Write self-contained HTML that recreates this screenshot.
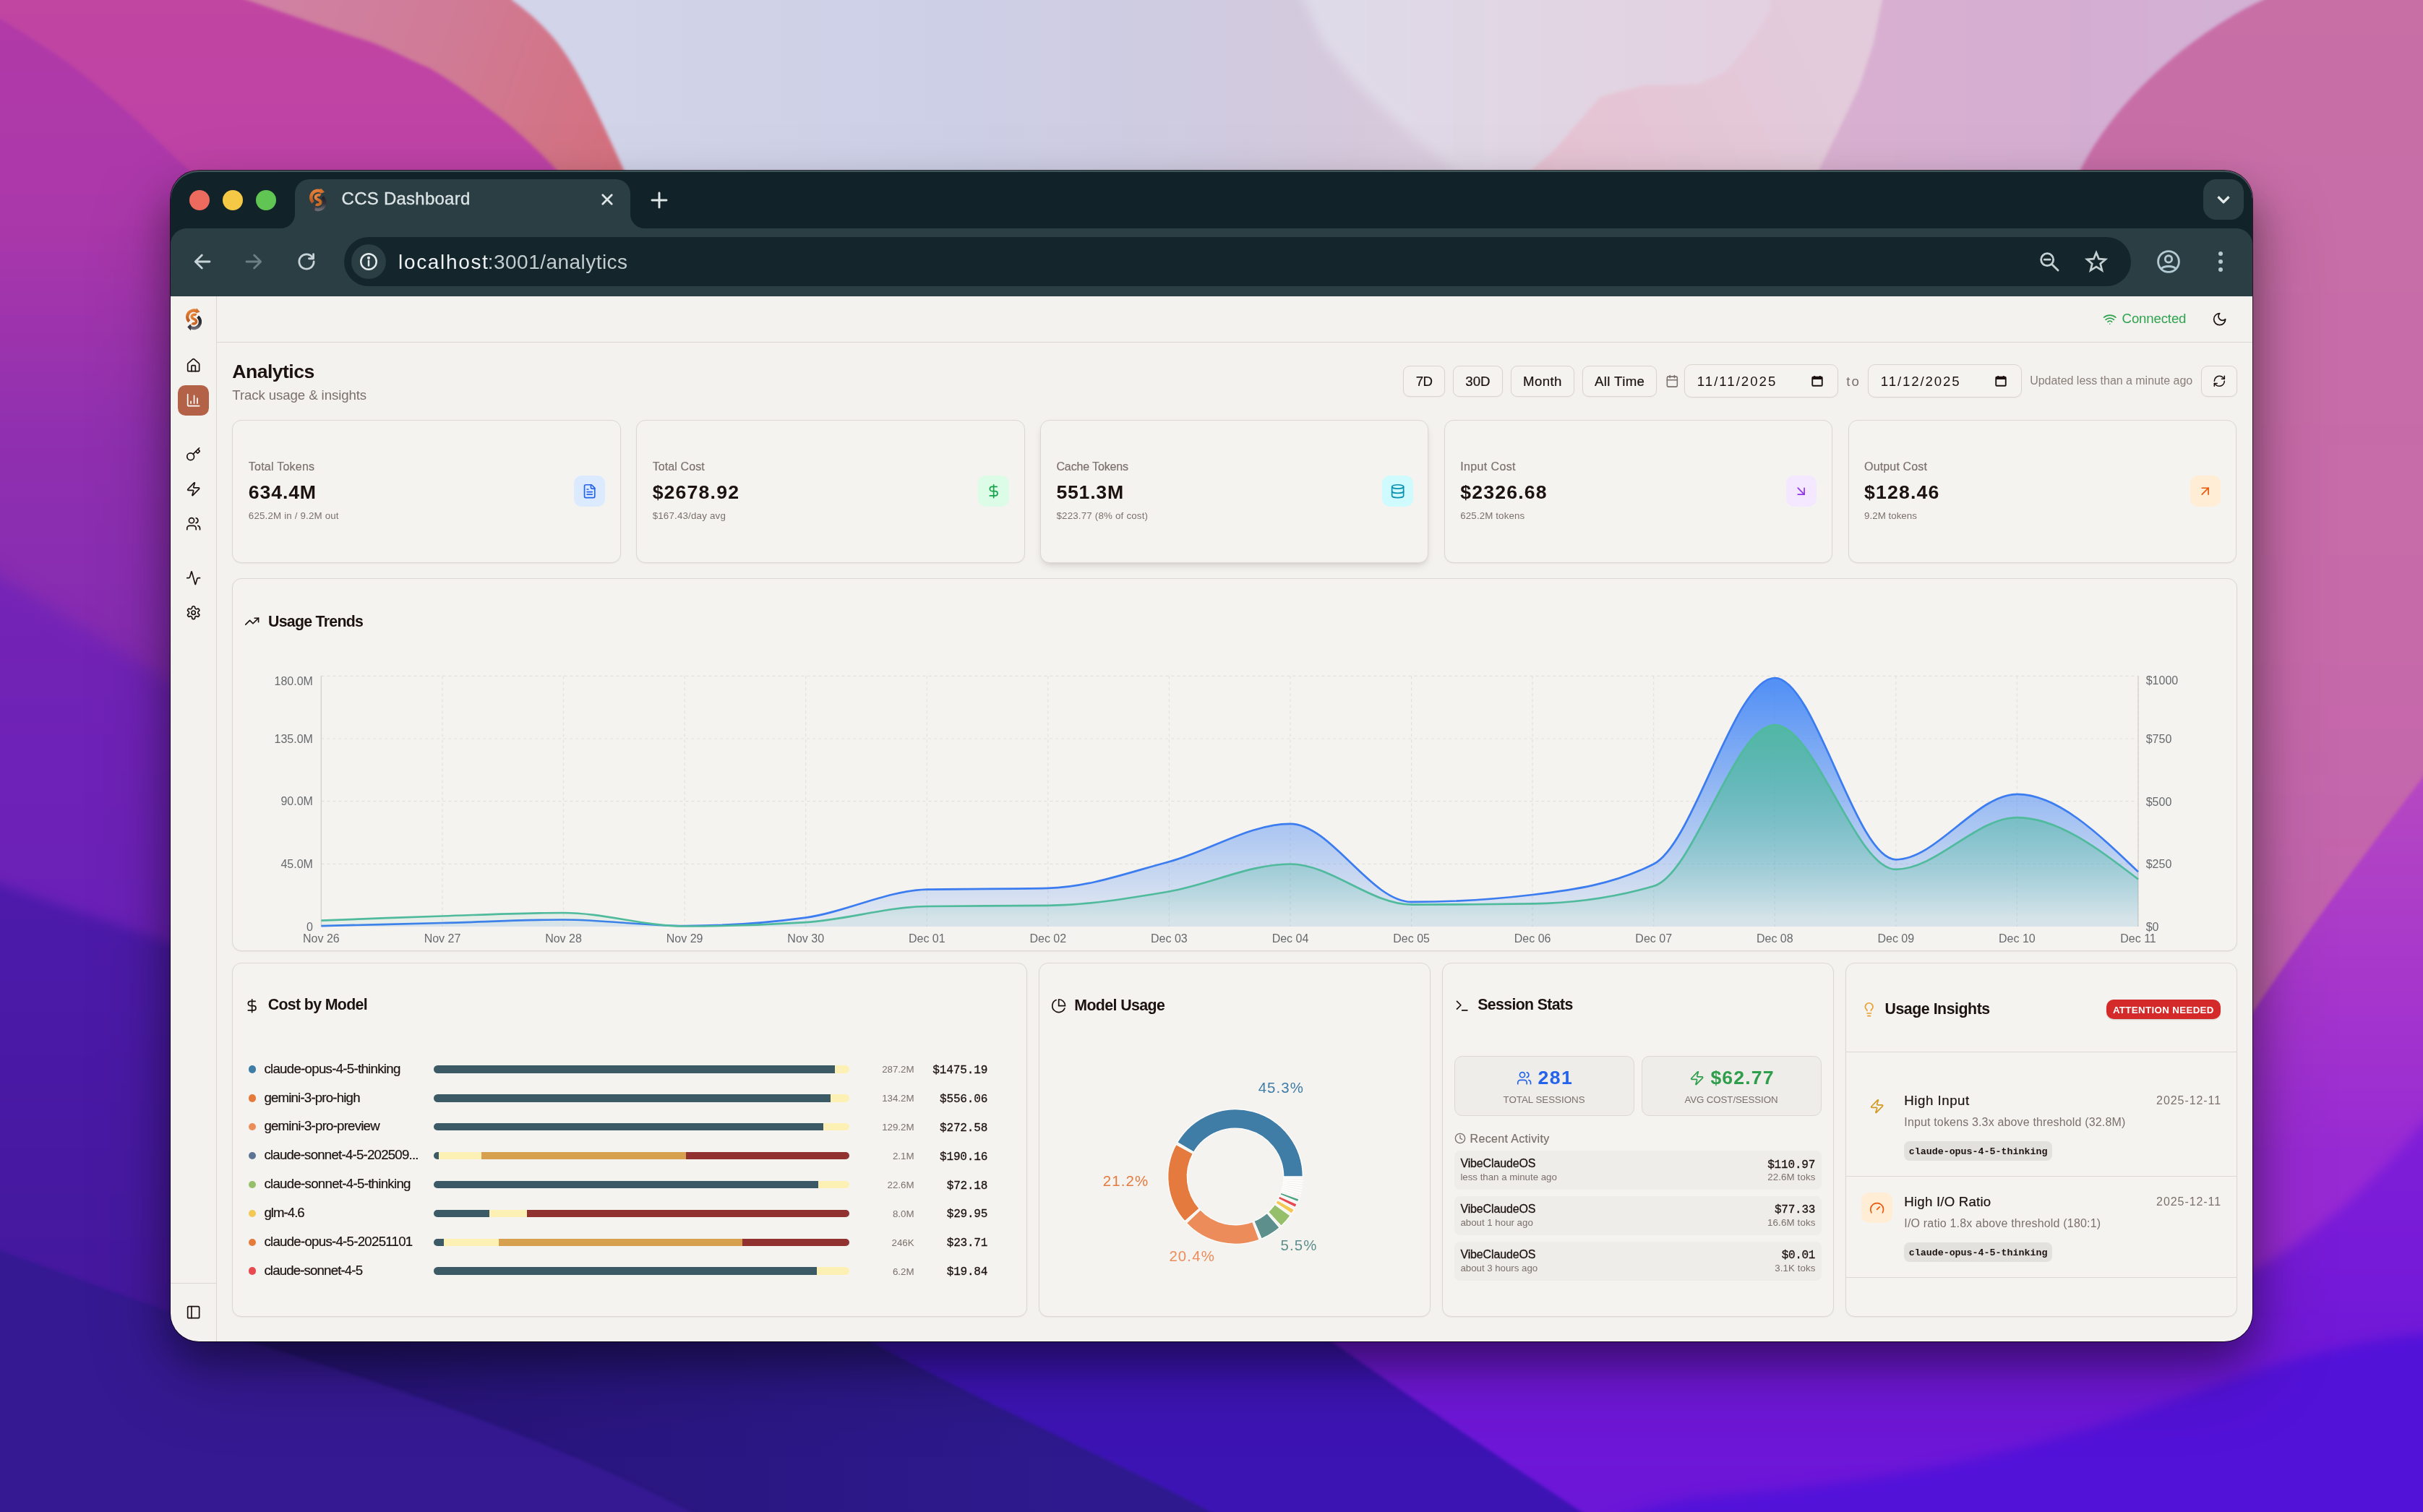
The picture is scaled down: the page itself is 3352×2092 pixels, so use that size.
<!DOCTYPE html>
<html lang="en"><head><meta charset="utf-8"><title>CCS Dashboard</title>
<style>
html,body{margin:0;padding:0;background:#3a1890;}
body{width:3352px;height:2092px;overflow:hidden;position:relative;font-family:"Liberation Sans",Arial,sans-serif;}
.wp{position:absolute;left:0;top:0;}
.b{position:absolute;box-sizing:border-box;}
.t{position:absolute;white-space:nowrap;display:block;}
.i{position:absolute;overflow:visible;}
#shadow{position:absolute;left:236px;top:236px;width:2880px;height:1620px;border-radius:39px;
 box-shadow:0 25px 60px rgba(0,0,0,.41),0 40px 120px rgba(0,0,0,.22);}
#ring{position:absolute;left:236px;top:236px;width:2880px;height:1620px;border-radius:39px;box-shadow:0 0 0 1px rgba(0,0,0,.72);}
#shwrap{position:absolute;left:0;top:0;width:3352px;height:2092px;-webkit-mask-image:linear-gradient(to bottom,rgba(0,0,0,.35) 205px,#000 300px);mask-image:linear-gradient(to bottom,rgba(0,0,0,.35) 205px,#000 300px);}
#win{position:absolute;left:0;top:0;width:3352px;height:2092px;clip-path:inset(236px 236px 236px 236px round 39px);will-change:transform;}
#hl{position:absolute;left:236px;top:236px;width:2880px;height:1620px;border-radius:39px;box-shadow:inset 0 2px 0 0 rgba(170,205,205,.30);}
.card{position:absolute;box-sizing:border-box;border:1px solid #dcd8d1;border-radius:13px;background:#f5f3ef;box-shadow:0 1px 2px rgba(0,0,0,.05);}
.btn{position:absolute;box-sizing:border-box;border:1px solid #d9d4cd;border-radius:9px;background:#f5f3ef;box-shadow:0 1px 2px rgba(0,0,0,.04);}
</style></head><body>

<svg class="wp" width="3352" height="2092" viewBox="0 0 3352 2092" preserveAspectRatio="none">
<defs>
<linearGradient id="gTop" x1="0" y1="0" x2="3352" y2="0" gradientUnits="userSpaceOnUse">
<stop offset="0.24" stop-color="#d2d4ea"/><stop offset="0.40" stop-color="#cdcfe6"/><stop offset="0.50" stop-color="#d0cbe0"/>
<stop offset="0.56" stop-color="#d6c9dc"/><stop offset="0.62" stop-color="#dcd0e0"/><stop offset="0.70" stop-color="#e1cedd"/><stop offset="0.76" stop-color="#dfc6da"/><stop offset="1" stop-color="#d8b4d2"/>
</linearGradient>
<linearGradient id="gLight" x1="1800" y1="0" x2="2500" y2="0" gradientUnits="userSpaceOnUse">
<stop offset="0" stop-color="#dedbe9"/><stop offset="0.6" stop-color="#e2d4e2"/><stop offset="1" stop-color="#e3cfe0"/>
</linearGradient>
<linearGradient id="gHill" x1="2120" y1="240" x2="2500" y2="60" gradientUnits="userSpaceOnUse">
<stop offset="0" stop-color="#e6c2d2"/><stop offset="1" stop-color="#e3cbdb"/>
</linearGradient>
<linearGradient id="gLilac" x1="2520" y1="0" x2="3150" y2="0" gradientUnits="userSpaceOnUse">
<stop offset="0" stop-color="#d9b0d0"/><stop offset="0.5" stop-color="#d5aed2"/><stop offset="1" stop-color="#d2b2d6"/>
</linearGradient>
<linearGradient id="gHot" x1="0" y1="0" x2="0" y2="1500" gradientUnits="userSpaceOnUse">
<stop offset="0" stop-color="#c86fa6"/><stop offset="0.6" stop-color="#c76aaa"/><stop offset="1" stop-color="#c060b0"/>
</linearGradient>
<linearGradient id="gSalmon" x1="300" y1="0" x2="860" y2="200" gradientUnits="userSpaceOnUse">
<stop offset="0" stop-color="#d082a6"/><stop offset="0.5" stop-color="#d07c98"/><stop offset="1" stop-color="#d4707e"/>
</linearGradient>
<linearGradient id="gMag" x1="0" y1="0" x2="0" y2="1000" gradientUnits="userSpaceOnUse">
<stop offset="0" stop-color="#c146a2"/><stop offset="0.25" stop-color="#bd42a6"/><stop offset="0.6" stop-color="#9a32b0"/><stop offset="1" stop-color="#852ab2"/>
</linearGradient>
<linearGradient id="gMagD" x1="0" y1="0" x2="0" y2="1000" gradientUnits="userSpaceOnUse">
<stop offset="0" stop-color="#b23aa8"/><stop offset="0.3" stop-color="#ab38aa"/><stop offset="0.6" stop-color="#9030b0"/><stop offset="1" stop-color="#822ab2"/>
</linearGradient>
<linearGradient id="gVio" x1="0" y1="800" x2="0" y2="1300" gradientUnits="userSpaceOnUse">
<stop offset="0" stop-color="#7424b6"/><stop offset="1" stop-color="#6a20b8"/>
</linearGradient>
<linearGradient id="gInd" x1="0" y1="1230" x2="0" y2="1800" gradientUnits="userSpaceOnUse">
<stop offset="0" stop-color="#4d1aaa"/><stop offset="1" stop-color="#44189e"/>
</linearGradient>
<linearGradient id="gRV" x1="0" y1="1080" x2="0" y2="1600" gradientUnits="userSpaceOnUse">
<stop offset="0" stop-color="#b648c2"/><stop offset="0.55" stop-color="#a636cc"/><stop offset="1" stop-color="#982ad4"/>
</linearGradient>
<linearGradient id="gD2" x1="0" y1="1560" x2="0" y2="2092" gradientUnits="userSpaceOnUse">
<stop offset="0" stop-color="#801ed8"/><stop offset="0.5" stop-color="#7219d8"/><stop offset="1" stop-color="#6c16d8"/>
</linearGradient>
<linearGradient id="gWB" x1="500" y1="1900" x2="1500" y2="1900" gradientUnits="userSpaceOnUse"><stop offset="0" stop-color="#271478"/><stop offset="1" stop-color="#2e1a8e"/></linearGradient>
<filter id="b2" color-interpolation-filters="sRGB"><feGaussianBlur stdDeviation="2"/></filter>
<filter id="b8" color-interpolation-filters="sRGB"><feGaussianBlur stdDeviation="8"/></filter>
<filter id="b12" color-interpolation-filters="sRGB"><feGaussianBlur stdDeviation="12"/></filter><filter id="b30" color-interpolation-filters="sRGB"><feGaussianBlur stdDeviation="30"/></filter>
</defs>
<rect x="0" y="0" width="3352" height="2092" fill="url(#gTop)"/>
<polygon filter="url(#b8)" points="1795,-20 1830,60 1880,120 1950,185 2030,250 2140,330 2600,330 2600,-20" fill="url(#gLight)"/>
<polygon filter="url(#b2)" points="2090,260 2150,208 2214,134 2274,118 2348,117 2388,99 2428,50 2448,15 2457,-60 2620,-60 2620,330 2090,330" fill="url(#gHill)"/>
<polygon filter="url(#b2)" points="2605,-60 2604,0 2592,59 2573,118 2545,177 2518,232 2470,330 3420,330 3420,-60" fill="url(#gLilac)"/>
<path filter="url(#b2)" d="M3190,-40 L3130,0 C3075,25 2945,105 2879,233 C2850,300 2840,400 2840,500 L2840,1500 L3420,1500 L3420,-60 Z" fill="url(#gHot)"/>
<path filter="url(#b2)" d="M3420,985 L3352,1075 C3280,1170 3190,1290 3117,1400 C3000,1560 2800,1700 2500,1800 L1800,1800 L1800,2170 L3420,2170 Z" fill="url(#gRV)"/>
<path filter="url(#b8)" d="M3420,1490 L3352,1553 C3290,1630 3210,1705 3130,1750 C3050,1790 2900,1830 2700,1850 L1780,1850 L1780,2170 L3420,2170 Z" fill="url(#gD2)"/>
<path filter="url(#b2)" d="M-60,-60 L708,-60 L708,0 C750,30 775,60 795,95 C815,130 838,180 862,233 C880,275 900,330 930,420 L930,1300 L-60,1300 Z" fill="url(#gSalmon)"/>
<path filter="url(#b2)" d="M-60,-60 L300,-60 C330,-4 336,-2 342,0 C400,20 450,38 510,57 C545,70 565,82 594,94 C630,115 660,138 693,163 C720,185 745,208 768,233 C820,290 860,350 900,420 L900,1300 L-60,1300 Z" fill="url(#gMag)"/>
<path filter="url(#b2)" d="M-60,-10 L0,26 C30,44 60,63 86.7,81.5 C116,103 145,127 173.3,152.5 C197,174 220,196 242.7,218.4 C250,225 255,229 260,234 C310,283 370,350 420,420 L420,1300 L-60,1300 Z" fill="url(#gMagD)"/>
<path filter="url(#b12)" d="M-60,760 L237,944 L700,1190 L700,2170 L-60,2170 Z" fill="url(#gVio)"/>
<path filter="url(#b8)" d="M-60,1203 L237,1305 L900,1500 L900,2170 L-60,2170 Z" fill="url(#gInd)"/>
<rect x="236" y="1800" width="2100" height="400" fill="url(#gWB)"/>
<path filter="url(#b2)" d="M-60,1708 L360,1861 C600,1935 800,2010 955,2092 L1100,2170 L-60,2170 Z" fill="#351992"/>
<path filter="url(#b2)" d="M1000,1830 L1203,1856 C1400,1960 1560,2030 1690,2100 L1820,2170 L2300,2170 L2300,1830 Z" fill="#3d14b4"/>
<path filter="url(#b2)" d="M1780,1820 L1842,1856 C1960,1940 2080,2020 2188,2092 L2300,2170 L3420,2170 L3420,1820 Z" fill="url(#gD2)"/>
<path filter="url(#b8)" d="M3420,1842 L3352,1846 C3200,1860 3060,1920 2921,1967 C2740,2025 2560,2055 2368,2070 C2330,2073 2290,2082 2240,2100 L2100,2170 L3420,2170 Z" fill="#5312d8"/>
</svg>
<div id="shwrap"><div id="shadow"></div></div><div id="ring"></div>
<div id="win">
<div class="chrome" aria-label="Browser chrome">
<div class="b" style="left:236.00px;top:235.00px;width:2880.00px;height:81.00px;background:#112228;"></div>
<div class="b" style="left:236.00px;top:316.00px;width:2880.00px;height:94.00px;background:#2b3e44;"></div>
<div class="b" style="left:236.00px;top:316.00px;width:24.00px;height:24.00px;background:#112228;"></div>
<div class="b" style="left:236.00px;top:316.00px;width:48.00px;height:48.00px;background:#2b3e44;border-top-left-radius:22px;"></div>
<div class="b" style="left:3092.00px;top:316.00px;width:24.00px;height:24.00px;background:#112228;"></div>
<div class="b" style="left:3068.00px;top:316.00px;width:48.00px;height:48.00px;background:#2b3e44;border-top-right-radius:22px;"></div>
<div class="b" style="left:262.30px;top:262.80px;width:28.00px;height:28.00px;background:#ed6a5e;border-radius:50%;"></div>
<div class="b" style="left:307.80px;top:262.80px;width:28.00px;height:28.00px;background:#f5c846;border-radius:50%;"></div>
<div class="b" style="left:353.80px;top:262.80px;width:28.00px;height:28.00px;background:#61c554;border-radius:50%;"></div>
<div class="b" style="left:408.00px;top:248.00px;width:464.00px;height:70.00px;background:#2b3e44;border-radius:20px 20px 0 0;"></div>
<svg class="i" style="left:388px;top:296px" width="20" height="20" viewBox="0 0 20 20"><path d="M20 0 V20 H0 A20 20 0 0 0 20 0Z" fill="#2b3e44"/></svg>
<svg class="i" style="left:872px;top:296px" width="20" height="20" viewBox="0 0 20 20"><path d="M0 0 V20 H20 A20 20 0 0 1 0 0Z" fill="#2b3e44"/></svg>
<svg class="i" style="left:427.90px;top:260.30px" width="23.60" height="33.59" viewBox="0 0 22.2 31.6"><defs><linearGradient id="lgO" x1="0" y1="0" x2="0.3" y2="1"><stop offset="0" stop-color="#e8853c"/><stop offset="0.5" stop-color="#d06c28"/><stop offset="1" stop-color="#b4521c"/></linearGradient><linearGradient id="lgD" x1="0" y1="0" x2="0" y2="1"><stop offset="0" stop-color="#232228"/><stop offset="0.55" stop-color="#34323a"/><stop offset="1" stop-color="#6e6a74"/></linearGradient><linearGradient id="lgS" x1="0" y1="0" x2="1" y2="1"><stop offset="0" stop-color="#e88a42"/><stop offset="0.5" stop-color="#d8702a"/><stop offset="1" stop-color="#c8621f"/></linearGradient></defs><path d="M16.64,12.11 A9,9 0 0 1 5.94,26.57" fill="none" stroke="url(#lgD)" stroke-width="4.3"/><path d="M2.3,26.6 L7.7,21.0 L6.9,31.5 Z" fill="#3a3840"/><path d="M15.33,4.55 A9,9 0 0 0 4.74,18.86" fill="none" stroke="url(#lgO)" stroke-width="4.3"/><path d="M14.9,0.2 L19.7,5.5 L13.6,7.8 Z" fill="#d4702c"/><path d="M14.3,10.1 C12.6,8.5 8.1,9.1 8.2,12.4 C8.3,15.8 14.4,14.9 14.5,18.6 C14.6,21.9 10.4,22.7 8.5,21.1" fill="none" stroke="#2b3e44" stroke-width="5.4" stroke-linecap="round"/><path d="M14.3,10.1 C12.6,8.5 8.1,9.1 8.2,12.4 C8.3,15.8 14.4,14.9 14.5,18.6 C14.6,21.9 10.4,22.7 8.5,21.1" fill="none" stroke="url(#lgS)" stroke-width="3.6" stroke-linecap="butt"/></svg>
<span class="t" style="left:472.60px;top:263.48px;font:400 24.00px/1 'Liberation Sans',Arial,sans-serif;color:#dde5e7;letter-spacing:0.240px;-webkit-text-stroke:0.3px #dde5e7;">CCS Dashboard</span>
<svg class="i" style="left:825.00px;top:261.00px;" width="30.00" height="30.00" viewBox="0 0 24 24" fill="none" stroke="#dfe6e8" stroke-width="2.2" stroke-linecap="round" stroke-linejoin="round"><path d="M7 7 L17 17 M17 7 L7 17"/></svg>
<svg class="i" style="left:895.60px;top:260.80px;" width="32.00" height="32.00" viewBox="0 0 24 24" fill="none" stroke="#dfe6e8" stroke-width="2.2" stroke-linecap="round" stroke-linejoin="round"><path d="M12 4.5 V19.5 M4.5 12 H19.5"/></svg>
<div class="b" style="left:3048.00px;top:248.00px;width:56.00px;height:56.00px;background:#2b3e44;border-radius:18px;"></div>
<svg class="i" style="left:3061.00px;top:261.00px;stroke-linecap:butt;" width="30.00" height="30.00" viewBox="0 0 24 24" fill="none" stroke="#e6ecec" stroke-width="2.6" stroke-linecap="round" stroke-linejoin="round"><path d="M6 9 L12 15 L18 9"/></svg>
<svg class="i" style="left:264.00px;top:346.00px;" width="32.00" height="32.00" viewBox="0 0 24 24" fill="none" stroke="#c7d3d7" stroke-width="2.1" stroke-linecap="round" stroke-linejoin="round"><path d="M19.5 12 H5 M11.5 5.2 L4.7 12 L11.5 18.8"/></svg>
<svg class="i" style="left:335.40px;top:346.00px;" width="32.00" height="32.00" viewBox="0 0 24 24" fill="none" stroke="#6d7f85" stroke-width="2.1" stroke-linecap="round" stroke-linejoin="round"><path d="M4.5 12 H19 M12.5 5.2 L19.3 12 L12.5 18.8"/></svg>
<svg class="i" style="left:408.00px;top:346.00px;" width="32.00" height="32.00" viewBox="0 0 24 24" fill="none" stroke="#c7d3d7" stroke-width="2.1" stroke-linecap="round" stroke-linejoin="round"><path d="M18.6 8.2 A7.6 7.6 0 1 0 19.6 12"/><path d="M19.2 4.2 V8.8 H14.6" /></svg>
<div class="b" style="left:476.00px;top:328.00px;width:2472.00px;height:68.00px;background:#14252b;border-radius:34px;"></div>
<div class="b" style="left:486.00px;top:338.00px;width:48.00px;height:48.00px;background:#2b3e44;border-radius:50%;"></div>
<svg class="i" style="left:495.00px;top:347.00px;" width="30.00" height="30.00" viewBox="0 0 24 24" fill="none" stroke="#e3eaec" stroke-width="2.0" stroke-linecap="round" stroke-linejoin="round"><circle cx="12" cy="12" r="8.6"/><path d="M12 11 V16.4"/><circle cx="12" cy="7.8" r="0.7" fill="#e3eaec"/></svg>
<span class="t" style="left:551.00px;top:349.20px;font:400 28.00px/1 'Liberation Sans',Arial,sans-serif;color:#eef2f3;letter-spacing:1.668px;">localhost</span>
<span class="t" style="left:674.80px;top:349.20px;font:400 28.00px/1 'Liberation Sans',Arial,sans-serif;color:#c3cdd0;letter-spacing:0.460px;">:3001/analytics</span>
<svg class="i" style="left:2818.40px;top:344.60px;" width="34.00" height="34.00" viewBox="0 0 24 24" fill="none" stroke="#c5d0d3" stroke-width="2.0" stroke-linecap="round" stroke-linejoin="round"><circle cx="10" cy="10" r="6"/><path d="M14.6 14.6 L20.5 20.5"/><path d="M7.3 10 H12.7"/></svg>
<svg class="i" style="left:2882.80px;top:344.60px;stroke-linejoin:miter;" width="34.00" height="34.00" viewBox="0 0 24 24" fill="none" stroke="#c5d0d3" stroke-width="1.9" stroke-linecap="round" stroke-linejoin="round"><path d="M12 3.2 L14.5 9.3 L21 9.8 L16 14.1 L17.6 20.5 L12 17 L6.4 20.5 L8 14.1 L3 9.8 L9.5 9.3 Z"/></svg>
<svg class="i" style="left:2982.00px;top:344.00px;" width="36.00" height="36.00" viewBox="0 0 24 24" fill="none" stroke="#b3cad2" stroke-width="1.9" stroke-linecap="round" stroke-linejoin="round"><circle cx="12" cy="12" r="9.6"/><circle cx="12" cy="9.6" r="3.1"/><path d="M5.4 18.6 C7.4 15.6 16.6 15.6 18.6 18.6"/></svg>
<div class="b" style="left:3068.50px;top:347.70px;width:6.60px;height:6.60px;background:#b3cad2;border-radius:50%;"></div>
<div class="b" style="left:3068.50px;top:358.70px;width:6.60px;height:6.60px;background:#b3cad2;border-radius:50%;"></div>
<div class="b" style="left:3068.50px;top:369.70px;width:6.60px;height:6.60px;background:#b3cad2;border-radius:50%;"></div>
</div>
<div class="b" style="left:236.00px;top:410.00px;width:2880.00px;height:1446.00px;background:#f4f2ee;"></div><aside aria-label="Sidebar"><nav>
<div class="b" style="left:299.00px;top:410.00px;width:1.00px;height:1446.00px;background:#dcd8d1;"></div>
<div class="b" style="left:300.00px;top:473.00px;width:2816.00px;height:1.00px;background:#dcd8d1;"></div>
<svg class="i" style="left:256.80px;top:426.10px" width="22.20" height="31.60" viewBox="0 0 22.2 31.6"><path d="M16.64,12.11 A9,9 0 0 1 5.94,26.57" fill="none" stroke="url(#lgD)" stroke-width="4.3"/><path d="M2.3,26.6 L7.7,21.0 L6.9,31.5 Z" fill="#3a3840"/><path d="M15.33,4.55 A9,9 0 0 0 4.74,18.86" fill="none" stroke="url(#lgO)" stroke-width="4.3"/><path d="M14.9,0.2 L19.7,5.5 L13.6,7.8 Z" fill="#d4702c"/><path d="M14.3,10.1 C12.6,8.5 8.1,9.1 8.2,12.4 C8.3,15.8 14.4,14.9 14.5,18.6 C14.6,21.9 10.4,22.7 8.5,21.1" fill="none" stroke="#f7f3ee" stroke-width="5.4" stroke-linecap="round"/><path d="M14.3,10.1 C12.6,8.5 8.1,9.1 8.2,12.4 C8.3,15.8 14.4,14.9 14.5,18.6 C14.6,21.9 10.4,22.7 8.5,21.1" fill="none" stroke="url(#lgS)" stroke-width="3.6" stroke-linecap="butt"/></svg>
<svg class="i" style="left:256.94px;top:494.53px;" width="21.33" height="21.33" viewBox="0 0 24 24" fill="none" stroke="#1c1210" stroke-width="1.9" stroke-linecap="round" stroke-linejoin="round"><path d="M15 21v-8a1 1 0 0 0-1-1h-4a1 1 0 0 0-1 1v8"/><path d="M3 10a2 2 0 0 1 .709-1.528l7-5.999a2 2 0 0 1 2.582 0l7 5.999A2 2 0 0 1 21 10v9a2 2 0 0 1-2 2H5a2 2 0 0 1-2-2z"/></svg>
<div class="b" style="left:246.00px;top:533.00px;width:43.00px;height:42.00px;background:#b46247;border-radius:10.5px;"></div>
<svg class="i" style="left:256.94px;top:543.24px;" width="21.33" height="21.33" viewBox="0 0 24 24" fill="none" stroke="#ffffff" stroke-width="1.9" stroke-linecap="round" stroke-linejoin="round"><path d="M3 3v16a2 2 0 0 0 2 2h16"/><path d="M18 17V9"/><path d="M13 17V5"/><path d="M8 17v-3"/></svg>
<svg class="i" style="left:256.94px;top:617.54px;" width="21.33" height="21.33" viewBox="0 0 24 24" fill="none" stroke="#1c1210" stroke-width="1.9" stroke-linecap="round" stroke-linejoin="round"><path d="m15.5 7.5 2.3 2.3a1 1 0 0 0 1.4 0l2.1-2.1a1 1 0 0 0 0-1.4L19 4"/><path d="m21 2-9.6 9.6"/><circle cx="7.5" cy="15.5" r="5.5"/></svg>
<svg class="i" style="left:256.94px;top:666.34px;" width="21.33" height="21.33" viewBox="0 0 24 24" fill="none" stroke="#1c1210" stroke-width="1.9" stroke-linecap="round" stroke-linejoin="round"><path d="M4 14a1 1 0 0 1-.78-1.63l9.9-10.2a.5.5 0 0 1 .86.46l-1.92 6.02A1 1 0 0 0 13 10h7a1 1 0 0 1 .78 1.63l-9.9 10.2a.5.5 0 0 1-.86-.46l1.92-6.02A1 1 0 0 0 11 14z"/></svg>
<svg class="i" style="left:256.94px;top:714.04px;" width="21.33" height="21.33" viewBox="0 0 24 24" fill="none" stroke="#1c1210" stroke-width="1.9" stroke-linecap="round" stroke-linejoin="round"><path d="M16 21v-2a4 4 0 0 0-4-4H6a4 4 0 0 0-4 4v2"/><circle cx="9" cy="7" r="4"/><path d="M22 21v-2a4 4 0 0 0-3-3.87"/><path d="M16 3.13a4 4 0 0 1 0 7.75"/></svg>
<svg class="i" style="left:256.94px;top:788.84px;" width="21.33" height="21.33" viewBox="0 0 24 24" fill="none" stroke="#1c1210" stroke-width="1.9" stroke-linecap="round" stroke-linejoin="round"><path d="M22 12h-2.48a2 2 0 0 0-1.93 1.46l-2.35 8.36a.25.25 0 0 1-.48 0L9.24 2.18a.25.25 0 0 0-.48 0l-2.35 8.36A2 2 0 0 1 4.49 12H2"/></svg>
<svg class="i" style="left:256.94px;top:836.74px;" width="21.33" height="21.33" viewBox="0 0 24 24" fill="none" stroke="#1c1210" stroke-width="1.9" stroke-linecap="round" stroke-linejoin="round"><path d="M12.22 2h-.44a2 2 0 0 0-2 2v.18a2 2 0 0 1-1 1.73l-.43.25a2 2 0 0 1-2 0l-.15-.08a2 2 0 0 0-2.73.73l-.22.38a2 2 0 0 0 .73 2.73l.15.1a2 2 0 0 1 1 1.72v.51a2 2 0 0 1-1 1.74l-.15.09a2 2 0 0 0-.73 2.73l.22.38a2 2 0 0 0 2.73.73l.15-.08a2 2 0 0 1 2 0l.43.25a2 2 0 0 1 1 1.73V20a2 2 0 0 0 2 2h.44a2 2 0 0 0 2-2v-.18a2 2 0 0 1 1-1.73l.43-.25a2 2 0 0 1 2 0l.15.08a2 2 0 0 0 2.73-.73l.22-.39a2 2 0 0 0-.73-2.73l-.15-.08a2 2 0 0 1-1-1.74v-.5a2 2 0 0 1 1-1.74l.15-.09a2 2 0 0 0 .73-2.73l-.22-.38a2 2 0 0 0-2.73-.73l-.15.08a2 2 0 0 1-2 0l-.43-.25a2 2 0 0 1-1-1.73V4a2 2 0 0 0-2-2z"/><circle cx="12" cy="12" r="3"/></svg>
<div class="b" style="left:236.00px;top:1775.00px;width:63.00px;height:1.00px;background:#dcd8d1;"></div>
<svg class="i" style="left:256.94px;top:1804.54px;" width="21.33" height="21.33" viewBox="0 0 24 24" fill="none" stroke="#1c1210" stroke-width="1.9" stroke-linecap="round" stroke-linejoin="round"><rect width="18" height="18" x="3" y="3" rx="2"/><path d="M9 3v18"/></svg>
</nav></aside>
<header>
<svg class="i" style="left:2908.65px;top:431.75px;" width="19.50" height="19.50" viewBox="0 0 24 24" fill="none" stroke="#2fa350" stroke-width="2" stroke-linecap="round" stroke-linejoin="round"><path d="M12 20h.01"/><path d="M2 8.82a15 15 0 0 1 20 0"/><path d="M5 12.859a10 10 0 0 1 14 0"/><path d="M8.5 16.429a5 5 0 0 1 7 0"/></svg>
<span class="t" style="left:2935.60px;top:432.20px;font:400 18.67px/1 'Liberation Sans',Arial,sans-serif;color:#2fa350;letter-spacing:-0.171px;">Connected</span>
<svg class="i" style="left:3059.84px;top:431.13px;" width="21.33" height="21.33" viewBox="0 0 24 24" fill="none" stroke="#1c1210" stroke-width="1.9" stroke-linecap="round" stroke-linejoin="round"><path d="M12 3a6 6 0 0 0 9 9 9 9 0 1 1-9-9Z"/></svg>
</header>
<main>
<section aria-label="Page heading">
<span class="t" style="left:321.30px;top:501.32px;font:700 26.67px/1 'Liberation Sans',Arial,sans-serif;color:#1c1210;letter-spacing:-0.569px;">Analytics</span>
<span class="t" style="left:321.30px;top:537.70px;font:400 18.67px/1 'Liberation Sans',Arial,sans-serif;color:#7c706c;letter-spacing:-0.104px;">Track usage &amp; insights</span>
<div class="btn" style="left:1941.00px;top:506.30px;width:57.70px;height:42.60px;"></div>
<span class="t" style="left:1958.70px;top:519.00px;font:400 18.67px/1 'Liberation Sans',Arial,sans-serif;color:#1c1210;letter-spacing:-0.598px;-webkit-text-stroke:0.2px #1c1210;">7D</span>
<div class="btn" style="left:2010.30px;top:506.30px;width:68.50px;height:42.60px;"></div>
<span class="t" style="left:2027.20px;top:519.00px;font:400 18.67px/1 'Liberation Sans',Arial,sans-serif;color:#1c1210;letter-spacing:0.070px;-webkit-text-stroke:0.2px #1c1210;">30D</span>
<div class="btn" style="left:2089.90px;top:506.30px;width:87.80px;height:42.60px;"></div>
<span class="t" style="left:2107.10px;top:519.00px;font:400 18.67px/1 'Liberation Sans',Arial,sans-serif;color:#1c1210;letter-spacing:0.374px;-webkit-text-stroke:0.2px #1c1210;">Month</span>
<div class="btn" style="left:2189.10px;top:506.30px;width:102.60px;height:42.60px;"></div>
<span class="t" style="left:2206.00px;top:519.00px;font:400 18.67px/1 'Liberation Sans',Arial,sans-serif;color:#1c1210;letter-spacing:0.375px;-webkit-text-stroke:0.2px #1c1210;">All Time</span>
<svg class="i" style="left:2304.36px;top:518.46px;" width="18.67" height="18.67" viewBox="0 0 24 24" fill="none" stroke="#7c706c" stroke-width="2" stroke-linecap="round" stroke-linejoin="round"><path d="M8 2v4"/><path d="M16 2v4"/><rect width="18" height="18" x="3" y="4" rx="2"/><path d="M3 10h18"/></svg>
<div class="btn" style="left:2330.40px;top:503.60px;width:212.20px;height:46.80px;border-radius:10px;"></div>
<span class="t" style="left:2347.80px;top:519.00px;font:400 18.67px/1 'Liberation Sans',Arial,sans-serif;color:#1c1210;letter-spacing:1.984px;">11/11/2025</span>
<svg class="i" style="left:2503.60px;top:516.40px;stroke-linecap:butt;stroke-linejoin:miter;" width="20.00" height="20.00" viewBox="0 0 16 16" fill="none" stroke="#1c1210" stroke-width="1.5" stroke-linecap="round" stroke-linejoin="round"><path d="M5 3.2 V6 M11 3.2 V6" stroke-width="1.6"/><rect x="2.6" y="4.6" width="10.8" height="9.6" rx="0.8" stroke-width="1.5"/><rect x="2.6" y="4.6" width="10.8" height="2.6" fill="#1c1210" stroke="none"/></svg>
<div class="btn" style="left:2584.10px;top:503.60px;width:212.80px;height:46.80px;border-radius:10px;"></div>
<span class="t" style="left:2601.80px;top:519.00px;font:400 18.67px/1 'Liberation Sans',Arial,sans-serif;color:#1c1210;letter-spacing:1.884px;">11/12/2025</span>
<svg class="i" style="left:2757.70px;top:516.40px;stroke-linecap:butt;stroke-linejoin:miter;" width="20.00" height="20.00" viewBox="0 0 16 16" fill="none" stroke="#1c1210" stroke-width="1.5" stroke-linecap="round" stroke-linejoin="round"><path d="M5 3.2 V6 M11 3.2 V6" stroke-width="1.6"/><rect x="2.6" y="4.6" width="10.8" height="9.6" rx="0.8" stroke-width="1.5"/><rect x="2.6" y="4.6" width="10.8" height="2.6" fill="#1c1210" stroke="none"/></svg>
<span class="t" style="left:2554.20px;top:519.00px;font:400 18.67px/1 'Liberation Sans',Arial,sans-serif;color:#7c706c;letter-spacing:2.211px;">to</span>
<span class="t" style="left:2808.20px;top:519.16px;font:400 16.00px/1 'Liberation Sans',Arial,sans-serif;color:#8a7e7a;letter-spacing:-0.032px;">Updated less than a minute ago</span>
<div class="btn" style="left:3045.40px;top:506.30px;width:49.30px;height:42.60px;"></div>
<svg class="i" style="left:3060.57px;top:518.46px;" width="18.67" height="18.67" viewBox="0 0 24 24" fill="none" stroke="#1c1210" stroke-width="2" stroke-linecap="round" stroke-linejoin="round"><path d="M3 12a9 9 0 0 1 9-9 9.75 9.75 0 0 1 6.74 2.74L21 8"/><path d="M21 3v5h-5"/><path d="M21 12a9 9 0 0 1-9 9 9.75 9.75 0 0 1-6.74-2.74L3 16"/><path d="M8 16H3v5"/></svg>
</section>
<section aria-label="Summary cards">
<div class="card" style="left:321.30px;top:581.20px;width:537.50px;height:197.80px;"></div>
<span class="t" style="left:343.80px;top:638.06px;font:400 16.00px/1 'Liberation Sans',Arial,sans-serif;color:#7c706c;letter-spacing:0.242px;-webkit-text-stroke:0.2px #7c706c;">Total Tokens</span>
<span class="t" style="left:343.80px;top:668.32px;font:700 26.67px/1 'Liberation Sans',Arial,sans-serif;color:#1c1210;letter-spacing:0.871px;">634.4M</span>
<span class="t" style="left:343.80px;top:707.12px;font:400 13.33px/1 'Liberation Sans',Arial,sans-serif;color:#7c706c;letter-spacing:0.168px;">625.2M in / 9.2M out</span>
<div class="b" style="left:794.33px;top:657.90px;width:42.67px;height:42.70px;background:#dbeafe;border-radius:10.67px;"></div>
<svg class="i" style="left:805.00px;top:668.59px;" width="21.33" height="21.33" viewBox="0 0 24 24" fill="none" stroke="#2563eb" stroke-width="1.9" stroke-linecap="round" stroke-linejoin="round"><path d="M15 2H6a2 2 0 0 0-2 2v16a2 2 0 0 0 2 2h12a2 2 0 0 0 2-2V7Z"/><path d="M14 2v4a2 2 0 0 0 2 2h4"/><path d="M10 9H8"/><path d="M16 13H8"/><path d="M16 17H8"/></svg>
<div class="card" style="left:880.13px;top:581.20px;width:537.50px;height:197.80px;"></div>
<span class="t" style="left:902.63px;top:638.06px;font:400 16.00px/1 'Liberation Sans',Arial,sans-serif;color:#7c706c;letter-spacing:0.109px;-webkit-text-stroke:0.2px #7c706c;">Total Cost</span>
<span class="t" style="left:902.63px;top:668.32px;font:700 26.67px/1 'Liberation Sans',Arial,sans-serif;color:#1c1210;letter-spacing:1.169px;">$2678.92</span>
<span class="t" style="left:902.63px;top:707.12px;font:400 13.33px/1 'Liberation Sans',Arial,sans-serif;color:#7c706c;letter-spacing:0.187px;">$167.43/day avg</span>
<div class="b" style="left:1353.16px;top:657.90px;width:42.67px;height:42.70px;background:#dcfce7;border-radius:10.67px;"></div>
<svg class="i" style="left:1363.83px;top:668.59px;" width="21.33" height="21.33" viewBox="0 0 24 24" fill="none" stroke="#16a34a" stroke-width="1.9" stroke-linecap="round" stroke-linejoin="round"><line x1="12" x2="12" y1="2" y2="22"/><path d="M17 5H9.5a3.5 3.5 0 0 0 0 7h5a3.5 3.5 0 0 1 0 7H6"/></svg>
<div class="card" style="left:1438.96px;top:581.20px;width:537.50px;height:197.80px;box-shadow:0 6px 12px -2px rgba(0,0,0,.10),0 3px 6px -3px rgba(0,0,0,.10);"></div>
<span class="t" style="left:1461.46px;top:638.06px;font:400 16.00px/1 'Liberation Sans',Arial,sans-serif;color:#7c706c;letter-spacing:-0.138px;-webkit-text-stroke:0.2px #7c706c;">Cache Tokens</span>
<span class="t" style="left:1461.46px;top:668.32px;font:700 26.67px/1 'Liberation Sans',Arial,sans-serif;color:#1c1210;letter-spacing:0.751px;">551.3M</span>
<span class="t" style="left:1461.46px;top:707.12px;font:400 13.33px/1 'Liberation Sans',Arial,sans-serif;color:#7c706c;letter-spacing:0.188px;">$223.77 (8% of cost)</span>
<div class="b" style="left:1911.99px;top:657.90px;width:42.67px;height:42.70px;background:#cffafe;border-radius:10.67px;"></div>
<svg class="i" style="left:1922.66px;top:668.59px;" width="21.33" height="21.33" viewBox="0 0 24 24" fill="none" stroke="#0891b2" stroke-width="1.9" stroke-linecap="round" stroke-linejoin="round"><ellipse cx="12" cy="5" rx="9" ry="3"/><path d="M3 5V19A9 3 0 0 0 21 19V5"/><path d="M3 12A9 3 0 0 0 21 12"/></svg>
<div class="card" style="left:1997.79px;top:581.20px;width:537.50px;height:197.80px;"></div>
<span class="t" style="left:2020.29px;top:638.06px;font:400 16.00px/1 'Liberation Sans',Arial,sans-serif;color:#7c706c;letter-spacing:0.360px;-webkit-text-stroke:0.2px #7c706c;">Input Cost</span>
<span class="t" style="left:2020.29px;top:668.32px;font:700 26.67px/1 'Liberation Sans',Arial,sans-serif;color:#1c1210;letter-spacing:1.155px;">$2326.68</span>
<span class="t" style="left:2020.29px;top:707.12px;font:400 13.33px/1 'Liberation Sans',Arial,sans-serif;color:#7c706c;letter-spacing:0.121px;">625.2M tokens</span>
<div class="b" style="left:2470.82px;top:657.90px;width:42.67px;height:42.70px;background:#f3e8ff;border-radius:10.67px;"></div>
<svg class="i" style="left:2481.49px;top:668.59px;" width="21.33" height="21.33" viewBox="0 0 24 24" fill="none" stroke="#9333ea" stroke-width="1.9" stroke-linecap="round" stroke-linejoin="round"><path d="m7 7 10 10"/><path d="M17 7v10H7"/></svg>
<div class="card" style="left:2556.62px;top:581.20px;width:537.50px;height:197.80px;"></div>
<span class="t" style="left:2579.12px;top:638.06px;font:400 16.00px/1 'Liberation Sans',Arial,sans-serif;color:#7c706c;letter-spacing:0.144px;-webkit-text-stroke:0.2px #7c706c;">Output Cost</span>
<span class="t" style="left:2579.12px;top:668.32px;font:700 26.67px/1 'Liberation Sans',Arial,sans-serif;color:#1c1210;letter-spacing:1.131px;">$128.46</span>
<span class="t" style="left:2579.12px;top:707.12px;font:400 13.33px/1 'Liberation Sans',Arial,sans-serif;color:#7c706c;letter-spacing:0.012px;">9.2M tokens</span>
<div class="b" style="left:3029.65px;top:657.90px;width:42.67px;height:42.70px;background:#ffedd5;border-radius:10.67px;"></div>
<svg class="i" style="left:3040.32px;top:668.59px;" width="21.33" height="21.33" viewBox="0 0 24 24" fill="none" stroke="#ea580c" stroke-width="1.9" stroke-linecap="round" stroke-linejoin="round"><path d="M7 7h10v10"/><path d="M7 17 17 7"/></svg>
</section><section aria-label="Usage Trends">
<div class="card" style="left:321.30px;top:800.20px;width:2773.40px;height:515.60px;"></div>
<svg class="i" style="left:338.44px;top:848.63px;" width="21.33" height="21.33" viewBox="0 0 24 24" fill="none" stroke="#1c1210" stroke-width="1.9" stroke-linecap="round" stroke-linejoin="round"><polyline points="22 7 13.5 15.5 8.5 10.5 2 17"/><polyline points="16 7 22 7 22 13"/></svg>
<span class="t" style="left:371.00px;top:850.04px;font:700 21.33px/1 'Liberation Sans',Arial,sans-serif;color:#1c1210;letter-spacing:-0.720px;">Usage Trends</span>
<svg class="i" style="left:0;top:0" width="3352" height="2092" viewBox="0 0 3352 2092">
<defs>
<linearGradient id="gB" x1="0" y1="938" x2="0" y2="1282" gradientUnits="userSpaceOnUse"><stop offset="0.03" stop-color="#3b82f6" stop-opacity="0.86"/><stop offset="0.97" stop-color="#3b82f6" stop-opacity="0.10"/></linearGradient>
<linearGradient id="gG" x1="0" y1="1003" x2="0" y2="1282" gradientUnits="userSpaceOnUse"><stop offset="0.03" stop-color="#4fba9c" stop-opacity="0.88"/><stop offset="0.97" stop-color="#4fba9c" stop-opacity="0.08"/></linearGradient>
</defs>
<line x1="444.4" x2="2958.0" y1="935.3" y2="935.3" stroke="#d9d6d0" stroke-width="1.2" stroke-dasharray="4 4" opacity="0.6"/>
<line x1="444.4" x2="2958.0" y1="1022.0" y2="1022.0" stroke="#d9d6d0" stroke-width="1.2" stroke-dasharray="4 4" opacity="0.6"/>
<line x1="444.4" x2="2958.0" y1="1108.7" y2="1108.7" stroke="#d9d6d0" stroke-width="1.2" stroke-dasharray="4 4" opacity="0.6"/>
<line x1="444.4" x2="2958.0" y1="1195.3" y2="1195.3" stroke="#d9d6d0" stroke-width="1.2" stroke-dasharray="4 4" opacity="0.6"/>
<line x1="444.4" x2="444.4" y1="935.3" y2="1282" stroke="#d9d6d0" stroke-width="1.2" stroke-dasharray="4 4" opacity="0.6"/>
<line x1="612.0" x2="612.0" y1="935.3" y2="1282" stroke="#d9d6d0" stroke-width="1.2" stroke-dasharray="4 4" opacity="0.6"/>
<line x1="779.5" x2="779.5" y1="935.3" y2="1282" stroke="#d9d6d0" stroke-width="1.2" stroke-dasharray="4 4" opacity="0.6"/>
<line x1="947.1" x2="947.1" y1="935.3" y2="1282" stroke="#d9d6d0" stroke-width="1.2" stroke-dasharray="4 4" opacity="0.6"/>
<line x1="1114.7" x2="1114.7" y1="935.3" y2="1282" stroke="#d9d6d0" stroke-width="1.2" stroke-dasharray="4 4" opacity="0.6"/>
<line x1="1282.3" x2="1282.3" y1="935.3" y2="1282" stroke="#d9d6d0" stroke-width="1.2" stroke-dasharray="4 4" opacity="0.6"/>
<line x1="1449.8" x2="1449.8" y1="935.3" y2="1282" stroke="#d9d6d0" stroke-width="1.2" stroke-dasharray="4 4" opacity="0.6"/>
<line x1="1617.4" x2="1617.4" y1="935.3" y2="1282" stroke="#d9d6d0" stroke-width="1.2" stroke-dasharray="4 4" opacity="0.6"/>
<line x1="1785.0" x2="1785.0" y1="935.3" y2="1282" stroke="#d9d6d0" stroke-width="1.2" stroke-dasharray="4 4" opacity="0.6"/>
<line x1="1952.6" x2="1952.6" y1="935.3" y2="1282" stroke="#d9d6d0" stroke-width="1.2" stroke-dasharray="4 4" opacity="0.6"/>
<line x1="2120.1" x2="2120.1" y1="935.3" y2="1282" stroke="#d9d6d0" stroke-width="1.2" stroke-dasharray="4 4" opacity="0.6"/>
<line x1="2287.7" x2="2287.7" y1="935.3" y2="1282" stroke="#d9d6d0" stroke-width="1.2" stroke-dasharray="4 4" opacity="0.6"/>
<line x1="2455.3" x2="2455.3" y1="935.3" y2="1282" stroke="#d9d6d0" stroke-width="1.2" stroke-dasharray="4 4" opacity="0.6"/>
<line x1="2622.8" x2="2622.8" y1="935.3" y2="1282" stroke="#d9d6d0" stroke-width="1.2" stroke-dasharray="4 4" opacity="0.6"/>
<line x1="2790.4" x2="2790.4" y1="935.3" y2="1282" stroke="#d9d6d0" stroke-width="1.2" stroke-dasharray="4 4" opacity="0.6"/>
<line x1="2958.0" x2="2958.0" y1="935.3" y2="1282" stroke="#d9d6d0" stroke-width="1.2" stroke-dasharray="4 4" opacity="0.6"/>
<line x1="444.4" x2="444.4" y1="935.3" y2="1282" stroke="#d4d0ca" stroke-width="1.3"/>
<line x1="2958.0" x2="2958.0" y1="935.3" y2="1282" stroke="#d4d0ca" stroke-width="1.3"/>
<path d="M444.4,1281.1C500.3,1279.8 556.1,1278.4 612.0,1277.0C667.8,1275.6 723.7,1272.5 779.5,1272.5C835.4,1272.5 891.3,1281.0 947.1,1281.0C1003.0,1281.0 1058.8,1277.2 1114.7,1269.6C1170.5,1262.0 1226.4,1231.9 1282.3,1230.7C1338.1,1229.5 1394.0,1230.1 1449.8,1228.9C1505.7,1227.7 1561.6,1207.1 1617.4,1192.2C1673.3,1177.3 1729.1,1139.8 1785.0,1139.8C1840.8,1139.8 1896.7,1247.9 1952.6,1247.9C2008.4,1247.9 2064.3,1244.6 2120.1,1238.0C2176.0,1231.4 2231.8,1223.8 2287.7,1195.5C2343.6,1167.2 2399.4,938.0 2455.3,938.0C2511.1,938.0 2567.0,1189.3 2622.8,1189.3C2678.7,1189.3 2734.6,1098.9 2790.4,1098.9C2846.3,1098.9 2902.1,1152.6 2958.0,1206.2L2958.0,1282L444.4,1282Z" fill="url(#gB)"/>
<path d="M444.4,1281.1C500.3,1279.8 556.1,1278.4 612.0,1277.0C667.8,1275.6 723.7,1272.5 779.5,1272.5C835.4,1272.5 891.3,1281.0 947.1,1281.0C1003.0,1281.0 1058.8,1277.2 1114.7,1269.6C1170.5,1262.0 1226.4,1231.9 1282.3,1230.7C1338.1,1229.5 1394.0,1230.1 1449.8,1228.9C1505.7,1227.7 1561.6,1207.1 1617.4,1192.2C1673.3,1177.3 1729.1,1139.8 1785.0,1139.8C1840.8,1139.8 1896.7,1247.9 1952.6,1247.9C2008.4,1247.9 2064.3,1244.6 2120.1,1238.0C2176.0,1231.4 2231.8,1223.8 2287.7,1195.5C2343.6,1167.2 2399.4,938.0 2455.3,938.0C2511.1,938.0 2567.0,1189.3 2622.8,1189.3C2678.7,1189.3 2734.6,1098.9 2790.4,1098.9C2846.3,1098.9 2902.1,1152.6 2958.0,1206.2" fill="none" stroke="#3b7cf0" stroke-width="2.67"/>
<path d="M444.4,1273.7C500.3,1271.5 556.1,1269.3 612.0,1267.5C667.8,1265.7 723.7,1263.0 779.5,1263.0C835.4,1263.0 891.3,1281.5 947.1,1281.5C1003.0,1281.5 1058.8,1279.7 1114.7,1276.2C1170.5,1272.7 1226.4,1254.7 1282.3,1254.0C1338.1,1253.3 1394.0,1253.6 1449.8,1252.9C1505.7,1252.2 1561.6,1243.1 1617.4,1233.5C1673.3,1223.9 1729.1,1195.5 1785.0,1195.5C1840.8,1195.5 1896.7,1251.6 1952.6,1251.6C2008.4,1251.6 2064.3,1251.2 2120.1,1250.4C2176.0,1249.6 2231.8,1242.3 2287.7,1226.0C2343.6,1209.7 2399.4,1003.2 2455.3,1003.2C2511.1,1003.2 2567.0,1202.9 2622.8,1202.9C2678.7,1202.9 2734.6,1131.1 2790.4,1131.1C2846.3,1131.1 2902.1,1173.8 2958.0,1216.5L2958.0,1282L444.4,1282Z" fill="url(#gG)"/>
<path d="M444.4,1273.7C500.3,1271.5 556.1,1269.3 612.0,1267.5C667.8,1265.7 723.7,1263.0 779.5,1263.0C835.4,1263.0 891.3,1281.5 947.1,1281.5C1003.0,1281.5 1058.8,1279.7 1114.7,1276.2C1170.5,1272.7 1226.4,1254.7 1282.3,1254.0C1338.1,1253.3 1394.0,1253.6 1449.8,1252.9C1505.7,1252.2 1561.6,1243.1 1617.4,1233.5C1673.3,1223.9 1729.1,1195.5 1785.0,1195.5C1840.8,1195.5 1896.7,1251.6 1952.6,1251.6C2008.4,1251.6 2064.3,1251.2 2120.1,1250.4C2176.0,1249.6 2231.8,1242.3 2287.7,1226.0C2343.6,1209.7 2399.4,1003.2 2455.3,1003.2C2511.1,1003.2 2567.0,1202.9 2622.8,1202.9C2678.7,1202.9 2734.6,1131.1 2790.4,1131.1C2846.3,1131.1 2902.1,1173.8 2958.0,1216.5" fill="none" stroke="#4fba9c" stroke-width="2.67"/>
<text x="432.9" y="947.7" text-anchor="end" font-family="Liberation Sans,Arial,sans-serif" font-size="16" fill="#666a6e">180.0M</text>
<text x="432.9" y="1028.0" text-anchor="end" font-family="Liberation Sans,Arial,sans-serif" font-size="16" fill="#666a6e">135.0M</text>
<text x="432.9" y="1114.4" text-anchor="end" font-family="Liberation Sans,Arial,sans-serif" font-size="16" fill="#666a6e">90.0M</text>
<text x="432.9" y="1201.1" text-anchor="end" font-family="Liberation Sans,Arial,sans-serif" font-size="16" fill="#666a6e">45.0M</text>
<text x="432.9" y="1287.8" text-anchor="end" font-family="Liberation Sans,Arial,sans-serif" font-size="16" fill="#666a6e">0</text>
<text x="2968.7" y="947.3" text-anchor="start" font-family="Liberation Sans,Arial,sans-serif" font-size="16" fill="#666a6e">$1000</text>
<text x="2968.7" y="1028.0" text-anchor="start" font-family="Liberation Sans,Arial,sans-serif" font-size="16" fill="#666a6e">$750</text>
<text x="2968.7" y="1114.7" text-anchor="start" font-family="Liberation Sans,Arial,sans-serif" font-size="16" fill="#666a6e">$500</text>
<text x="2968.7" y="1201.3" text-anchor="start" font-family="Liberation Sans,Arial,sans-serif" font-size="16" fill="#666a6e">$250</text>
<text x="2968.7" y="1288.2" text-anchor="start" font-family="Liberation Sans,Arial,sans-serif" font-size="16" fill="#666a6e">$0</text>
<text x="444.4" y="1303.8" text-anchor="middle" font-family="Liberation Sans,Arial,sans-serif" font-size="16" fill="#666a6e">Nov 26</text>
<text x="612.0" y="1303.8" text-anchor="middle" font-family="Liberation Sans,Arial,sans-serif" font-size="16" fill="#666a6e">Nov 27</text>
<text x="779.5" y="1303.8" text-anchor="middle" font-family="Liberation Sans,Arial,sans-serif" font-size="16" fill="#666a6e">Nov 28</text>
<text x="947.1" y="1303.8" text-anchor="middle" font-family="Liberation Sans,Arial,sans-serif" font-size="16" fill="#666a6e">Nov 29</text>
<text x="1114.7" y="1303.8" text-anchor="middle" font-family="Liberation Sans,Arial,sans-serif" font-size="16" fill="#666a6e">Nov 30</text>
<text x="1282.3" y="1303.8" text-anchor="middle" font-family="Liberation Sans,Arial,sans-serif" font-size="16" fill="#666a6e">Dec 01</text>
<text x="1449.8" y="1303.8" text-anchor="middle" font-family="Liberation Sans,Arial,sans-serif" font-size="16" fill="#666a6e">Dec 02</text>
<text x="1617.4" y="1303.8" text-anchor="middle" font-family="Liberation Sans,Arial,sans-serif" font-size="16" fill="#666a6e">Dec 03</text>
<text x="1785.0" y="1303.8" text-anchor="middle" font-family="Liberation Sans,Arial,sans-serif" font-size="16" fill="#666a6e">Dec 04</text>
<text x="1952.6" y="1303.8" text-anchor="middle" font-family="Liberation Sans,Arial,sans-serif" font-size="16" fill="#666a6e">Dec 05</text>
<text x="2120.1" y="1303.8" text-anchor="middle" font-family="Liberation Sans,Arial,sans-serif" font-size="16" fill="#666a6e">Dec 06</text>
<text x="2287.7" y="1303.8" text-anchor="middle" font-family="Liberation Sans,Arial,sans-serif" font-size="16" fill="#666a6e">Dec 07</text>
<text x="2455.3" y="1303.8" text-anchor="middle" font-family="Liberation Sans,Arial,sans-serif" font-size="16" fill="#666a6e">Dec 08</text>
<text x="2622.8" y="1303.8" text-anchor="middle" font-family="Liberation Sans,Arial,sans-serif" font-size="16" fill="#666a6e">Dec 09</text>
<text x="2790.4" y="1303.8" text-anchor="middle" font-family="Liberation Sans,Arial,sans-serif" font-size="16" fill="#666a6e">Dec 10</text>
<text x="2958.0" y="1303.8" text-anchor="middle" font-family="Liberation Sans,Arial,sans-serif" font-size="16" fill="#666a6e">Dec 11</text>
</svg>
</section><section aria-label="Cost by Model">
<div class="card" style="left:321.30px;top:1332.10px;width:1099.30px;height:490.10px;"></div>
<svg class="i" style="left:337.83px;top:1380.74px;" width="21.33" height="21.33" viewBox="0 0 24 24" fill="none" stroke="#1c1210" stroke-width="1.9" stroke-linecap="round" stroke-linejoin="round"><line x1="12" x2="12" y1="2" y2="22"/><path d="M17 5H9.5a3.5 3.5 0 0 0 0 7h5a3.5 3.5 0 0 1 0 7H6"/></svg>
<span class="t" style="left:370.70px;top:1380.34px;font:700 21.33px/1 'Liberation Sans',Arial,sans-serif;color:#1c1210;letter-spacing:-0.649px;">Cost by Model</span>
<div class="b" style="left:343.57px;top:1473.97px;width:10.66px;height:10.66px;background:#3f7ca6;border-radius:50%;"></div>
<span class="t" style="left:365.40px;top:1469.60px;font:400 18.67px/1 'Liberation Sans',Arial,sans-serif;color:#1c1210;letter-spacing:-0.716px;-webkit-text-stroke:0.2px #1c1210;">claude-opus-4-5-thinking</span>
<div class="b" style="left:600.00px;top:1473.97px;width:575.00px;height:10.66px;border-radius:6px;background:linear-gradient(90deg,#3c5a66 0.00%,#3c5a66 96.60%,#fdf0b4 96.60%,#fdf0b4 100.00%);"></div>
<span class="t" style="left:1220.14px;top:1473.02px;font:400 13.33px/1 'Liberation Sans',Arial,sans-serif;color:#7c706c;">287.2M</span>
<span class="t" style="left:1290.23px;top:1472.84px;font:400 16.00px/1 'Liberation Mono','DejaVu Sans Mono',monospace;color:#1c1210;letter-spacing:-0.104px;-webkit-text-stroke:0.3px #1c1210;">$1475.19</span>
<div class="b" style="left:343.57px;top:1513.90px;width:10.66px;height:10.66px;background:#e57a3c;border-radius:50%;"></div>
<span class="t" style="left:365.40px;top:1509.53px;font:400 18.67px/1 'Liberation Sans',Arial,sans-serif;color:#1c1210;letter-spacing:-0.817px;-webkit-text-stroke:0.2px #1c1210;">gemini-3-pro-high</span>
<div class="b" style="left:600.00px;top:1513.90px;width:575.00px;height:10.66px;border-radius:6px;background:linear-gradient(90deg,#3c5a66 0.00%,#3c5a66 95.40%,#fdf0b4 95.40%,#fdf0b4 100.00%);"></div>
<span class="t" style="left:1220.14px;top:1512.95px;font:400 13.33px/1 'Liberation Sans',Arial,sans-serif;color:#7c706c;">134.2M</span>
<span class="t" style="left:1300.04px;top:1512.77px;font:400 16.00px/1 'Liberation Mono','DejaVu Sans Mono',monospace;color:#1c1210;letter-spacing:-0.157px;-webkit-text-stroke:0.3px #1c1210;">$556.06</span>
<div class="b" style="left:343.57px;top:1553.83px;width:10.66px;height:10.66px;background:#ec8c58;border-radius:50%;"></div>
<span class="t" style="left:365.40px;top:1549.46px;font:400 18.67px/1 'Liberation Sans',Arial,sans-serif;color:#1c1210;letter-spacing:-0.790px;-webkit-text-stroke:0.2px #1c1210;">gemini-3-pro-preview</span>
<div class="b" style="left:600.00px;top:1553.83px;width:575.00px;height:10.66px;border-radius:6px;background:linear-gradient(90deg,#3c5a66 0.00%,#3c5a66 93.70%,#fdf0b4 93.70%,#fdf0b4 100.00%);"></div>
<span class="t" style="left:1220.14px;top:1552.88px;font:400 13.33px/1 'Liberation Sans',Arial,sans-serif;color:#7c706c;">129.2M</span>
<span class="t" style="left:1300.04px;top:1552.70px;font:400 16.00px/1 'Liberation Mono','DejaVu Sans Mono',monospace;color:#1c1210;letter-spacing:-0.157px;-webkit-text-stroke:0.3px #1c1210;">$272.58</span>
<div class="b" style="left:343.57px;top:1593.76px;width:10.66px;height:10.66px;background:#5d7494;border-radius:50%;"></div>
<span class="t" style="left:365.40px;top:1589.39px;font:400 18.67px/1 'Liberation Sans',Arial,sans-serif;color:#1c1210;letter-spacing:-0.780px;-webkit-text-stroke:0.2px #1c1210;">claude-sonnet-4-5-202509...</span>
<div class="b" style="left:600.00px;top:1593.76px;width:575.00px;height:10.66px;border-radius:6px;background:linear-gradient(90deg,#3c5a66 0.00%,#3c5a66 1.25%,#fdf0b4 1.25%,#fdf0b4 11.44%,#d6a04f 11.44%,#d6a04f 60.70%,#923230 60.70%,#923230 100.00%);"></div>
<span class="t" style="left:1234.94px;top:1592.81px;font:400 13.33px/1 'Liberation Sans',Arial,sans-serif;color:#7c706c;">2.1M</span>
<span class="t" style="left:1300.04px;top:1592.63px;font:400 16.00px/1 'Liberation Mono','DejaVu Sans Mono',monospace;color:#1c1210;letter-spacing:-0.157px;-webkit-text-stroke:0.3px #1c1210;">$190.16</span>
<div class="b" style="left:343.57px;top:1633.69px;width:10.66px;height:10.66px;background:#96bf6c;border-radius:50%;"></div>
<span class="t" style="left:365.40px;top:1629.32px;font:400 18.67px/1 'Liberation Sans',Arial,sans-serif;color:#1c1210;letter-spacing:-0.714px;-webkit-text-stroke:0.2px #1c1210;">claude-sonnet-4-5-thinking</span>
<div class="b" style="left:600.00px;top:1633.69px;width:575.00px;height:10.66px;border-radius:6px;background:linear-gradient(90deg,#3c5a66 0.00%,#3c5a66 92.50%,#fdf0b4 92.50%,#fdf0b4 100.00%);"></div>
<span class="t" style="left:1227.54px;top:1632.74px;font:400 13.33px/1 'Liberation Sans',Arial,sans-serif;color:#7c706c;">22.6M</span>
<span class="t" style="left:1309.85px;top:1632.56px;font:400 16.00px/1 'Liberation Mono','DejaVu Sans Mono',monospace;color:#1c1210;letter-spacing:-0.230px;-webkit-text-stroke:0.3px #1c1210;">$72.18</span>
<div class="b" style="left:343.57px;top:1673.62px;width:10.66px;height:10.66px;background:#f3c855;border-radius:50%;"></div>
<span class="t" style="left:365.40px;top:1669.25px;font:400 18.67px/1 'Liberation Sans',Arial,sans-serif;color:#1c1210;letter-spacing:-0.977px;-webkit-text-stroke:0.2px #1c1210;">glm-4.6</span>
<div class="b" style="left:600.00px;top:1673.62px;width:575.00px;height:10.66px;border-radius:6px;background:linear-gradient(90deg,#3c5a66 0.00%,#3c5a66 13.37%,#fdf0b4 13.37%,#fdf0b4 22.41%,#923230 22.41%,#923230 100.00%);"></div>
<span class="t" style="left:1234.94px;top:1672.67px;font:400 13.33px/1 'Liberation Sans',Arial,sans-serif;color:#7c706c;">8.0M</span>
<span class="t" style="left:1309.85px;top:1672.49px;font:400 16.00px/1 'Liberation Mono','DejaVu Sans Mono',monospace;color:#1c1210;letter-spacing:-0.230px;-webkit-text-stroke:0.3px #1c1210;">$29.95</span>
<div class="b" style="left:343.57px;top:1713.55px;width:10.66px;height:10.66px;background:#e67a3a;border-radius:50%;"></div>
<span class="t" style="left:365.40px;top:1709.18px;font:400 18.67px/1 'Liberation Sans',Arial,sans-serif;color:#1c1210;letter-spacing:-0.732px;-webkit-text-stroke:0.2px #1c1210;">claude-opus-4-5-20251101</span>
<div class="b" style="left:600.00px;top:1713.55px;width:575.00px;height:10.66px;border-radius:6px;background:linear-gradient(90deg,#3c5a66 0.00%,#3c5a66 2.45%,#fdf0b4 2.45%,#fdf0b4 15.65%,#d6a04f 15.65%,#d6a04f 74.28%,#923230 74.28%,#923230 100.00%);"></div>
<span class="t" style="left:1233.47px;top:1712.60px;font:400 13.33px/1 'Liberation Sans',Arial,sans-serif;color:#7c706c;">246K</span>
<span class="t" style="left:1309.85px;top:1712.42px;font:400 16.00px/1 'Liberation Mono','DejaVu Sans Mono',monospace;color:#1c1210;letter-spacing:-0.230px;-webkit-text-stroke:0.3px #1c1210;">$23.71</span>
<div class="b" style="left:343.57px;top:1753.48px;width:10.66px;height:10.66px;background:#e84a4f;border-radius:50%;"></div>
<span class="t" style="left:365.40px;top:1749.11px;font:400 18.67px/1 'Liberation Sans',Arial,sans-serif;color:#1c1210;letter-spacing:-0.855px;-webkit-text-stroke:0.2px #1c1210;">claude-sonnet-4-5</span>
<div class="b" style="left:600.00px;top:1753.48px;width:575.00px;height:10.66px;border-radius:6px;background:linear-gradient(90deg,#3c5a66 0.00%,#3c5a66 92.20%,#fdf0b4 92.20%,#fdf0b4 100.00%);"></div>
<span class="t" style="left:1234.94px;top:1752.53px;font:400 13.33px/1 'Liberation Sans',Arial,sans-serif;color:#7c706c;">6.2M</span>
<span class="t" style="left:1309.85px;top:1752.35px;font:400 16.00px/1 'Liberation Mono','DejaVu Sans Mono',monospace;color:#1c1210;letter-spacing:-0.230px;-webkit-text-stroke:0.3px #1c1210;">$19.84</span>
</section>
<section aria-label="Model Usage">
<div class="card" style="left:1437.20px;top:1332.10px;width:541.60px;height:490.10px;"></div>
<svg class="i" style="left:1453.93px;top:1380.74px;" width="21.33" height="21.33" viewBox="0 0 24 24" fill="none" stroke="#1c1210" stroke-width="1.9" stroke-linecap="round" stroke-linejoin="round"><path d="M21.21 15.89A10 10 0 1 1 8 2.83"/><path d="M22 12A10 10 0 0 0 12 2v10z"/></svg>
<span class="t" style="left:1486.30px;top:1380.84px;font:700 21.33px/1 'Liberation Sans',Arial,sans-serif;color:#1c1210;letter-spacing:-0.611px;">Model Usage</span>
<svg class="i" style="left:1588.8px;top:1507.6px" width="240" height="240" viewBox="-120 -120 240 240">
<path d="M93.30,-0.00A93.3,93.3 0 0 0 -80.38,-47.37L-57.46,-33.86A66.7,66.7 0 0 1 66.70,-0.00Z" fill="#3f7ca6" stroke="#ffffff" stroke-width="1.3"/>
<path d="M-81.99,-44.53A93.3,93.3 0 0 0 -69.93,61.76L-49.99,44.15A66.7,66.7 0 0 1 -58.61,-31.84Z" fill="#e57a3f" stroke="#ffffff" stroke-width="1.3"/>
<path d="M-67.73,64.16A93.3,93.3 0 0 0 33.09,87.24L23.65,62.37A66.7,66.7 0 0 1 -48.42,45.87Z" fill="#ec8c5a" stroke="#ffffff" stroke-width="1.3"/>
<path d="M36.11,86.03A93.3,93.3 0 0 0 61.11,70.50L43.69,50.40A66.7,66.7 0 0 1 25.82,61.50Z" fill="#5d8f8c" stroke="#ffffff" stroke-width="1.3"/>
<path d="M63.54,68.32A93.3,93.3 0 0 0 76.12,53.96L54.41,38.57A66.7,66.7 0 0 1 45.42,48.84Z" fill="#96bf6c" stroke="#ffffff" stroke-width="1.3"/>
<path d="M77.95,51.27A93.3,93.3 0 0 0 81.46,45.48L58.24,32.51A66.7,66.7 0 0 1 55.73,36.65Z" fill="#f3c855" stroke="#ffffff" stroke-width="1.3"/>
<path d="M83.00,42.61A93.3,93.3 0 0 0 85.27,37.86L60.96,27.07A66.7,66.7 0 0 1 59.34,30.46Z" fill="#e84a4f" stroke="#ffffff" stroke-width="1.3"/>
<path d="M86.54,34.86A93.3,93.3 0 0 0 88.06,30.84L62.95,22.05A66.7,66.7 0 0 1 61.87,24.92Z" fill="#4fa583" stroke="#ffffff" stroke-width="1.3"/>
<path d="M89.08,27.75A93.3,93.3 0 0 0 89.52,26.30L63.99,18.81A66.7,66.7 0 0 1 63.68,19.83Z" fill="#e0605a" stroke="#ffffff" stroke-width="1.3"/>
<path d="M90.38,23.16A93.3,93.3 0 0 0 90.51,22.64L64.71,16.19A66.7,66.7 0 0 1 64.61,16.56Z" fill="#8a94c0" stroke="#ffffff" stroke-width="1.3"/>
<path d="M91.25,19.47A93.3,93.3 0 0 0 91.27,19.38L65.25,13.85A66.7,66.7 0 0 1 65.23,13.92Z" fill="#ffffff" stroke="#ffffff" stroke-width="1.3"/>
<path d="M91.89,16.18A93.3,93.3 0 0 0 91.90,16.08L65.70,11.50A66.7,66.7 0 0 1 65.69,11.57Z" fill="#ffffff" stroke="#ffffff" stroke-width="1.3"/>
<path d="M92.41,12.87A93.3,93.3 0 0 0 92.42,12.77L66.07,9.13A66.7,66.7 0 0 1 66.06,9.20Z" fill="#ffffff" stroke="#ffffff" stroke-width="1.3"/>
<path d="M92.81,9.54A93.3,93.3 0 0 0 92.82,9.44L66.36,6.75A66.7,66.7 0 0 1 66.35,6.82Z" fill="#ffffff" stroke="#ffffff" stroke-width="1.3"/>
<path d="M93.09,6.19A93.3,93.3 0 0 0 93.10,6.10L66.56,4.36A66.7,66.7 0 0 1 66.55,4.43Z" fill="#ffffff" stroke="#ffffff" stroke-width="1.3"/>
<path d="M93.26,2.84A93.3,93.3 0 0 0 93.26,2.75L66.67,1.96A66.7,66.7 0 0 1 66.67,2.03Z" fill="#ffffff" stroke="#ffffff" stroke-width="1.3"/>
</svg>
<span class="t" style="left:1740.70px;top:1495.33px;font:400 20.40px/1 'Liberation Sans',Arial,sans-serif;color:#3f7ca6;letter-spacing:1.067px;">45.3%</span>
<span class="t" style="left:1525.70px;top:1624.23px;font:400 20.40px/1 'Liberation Sans',Arial,sans-serif;color:#e57a3f;letter-spacing:1.142px;">21.2%</span>
<span class="t" style="left:1617.40px;top:1727.53px;font:400 20.40px/1 'Liberation Sans',Arial,sans-serif;color:#ec8c5a;letter-spacing:1.142px;">20.4%</span>
<span class="t" style="left:1771.60px;top:1713.33px;font:400 20.40px/1 'Liberation Sans',Arial,sans-serif;color:#5d8f8c;letter-spacing:1.063px;">5.5%</span>
</section>
<section aria-label="Session Stats">
<div class="card" style="left:1995.20px;top:1332.10px;width:541.50px;height:490.10px;"></div>
<svg class="i" style="left:2011.63px;top:1380.74px;" width="21.33" height="21.33" viewBox="0 0 24 24" fill="none" stroke="#1c1210" stroke-width="1.9" stroke-linecap="round" stroke-linejoin="round"><polyline points="4 17 10 11 4 5"/><line x1="12" x2="20" y1="19" y2="19"/></svg>
<span class="t" style="left:2044.30px;top:1380.34px;font:700 21.33px/1 'Liberation Sans',Arial,sans-serif;color:#1c1210;letter-spacing:-0.660px;">Session Stats</span>
<div class="b" style="left:2012.10px;top:1461.40px;width:248.60px;height:82.40px;background:#efede9;border:1px solid #dcd8d1;border-radius:10.67px;"></div>
<div class="b" style="left:2271.10px;top:1461.40px;width:248.60px;height:82.40px;background:#efede9;border:1px solid #dcd8d1;border-radius:10.67px;"></div>
<svg class="i" style="left:2098.03px;top:1480.54px;" width="21.33" height="21.33" viewBox="0 0 24 24" fill="none" stroke="#2563eb" stroke-width="1.9" stroke-linecap="round" stroke-linejoin="round"><path d="M16 21v-2a4 4 0 0 0-4-4H6a4 4 0 0 0-4 4v2"/><circle cx="9" cy="7" r="4"/><path d="M22 21v-2a4 4 0 0 0-3-3.87"/><path d="M16 3.13a4 4 0 0 1 0 7.75"/></svg>
<span class="t" style="left:2127.50px;top:1477.62px;font:700 26.67px/1 'Liberation Sans',Arial,sans-serif;color:#2563eb;letter-spacing:1.481px;">281</span>
<span class="t" style="left:2079.60px;top:1515.12px;font:400 13.33px/1 'Liberation Sans',Arial,sans-serif;color:#7c706c;letter-spacing:-0.008px;">TOTAL SESSIONS</span>
<svg class="i" style="left:2336.93px;top:1480.54px;" width="21.33" height="21.33" viewBox="0 0 24 24" fill="none" stroke="#2f9e4c" stroke-width="1.9" stroke-linecap="round" stroke-linejoin="round"><path d="M4 14a1 1 0 0 1-.78-1.63l9.9-10.2a.5.5 0 0 1 .86.46l-1.92 6.02A1 1 0 0 0 13 10h7a1 1 0 0 1 .78 1.63l-9.9 10.2a.5.5 0 0 1-.86-.46l1.92-6.02A1 1 0 0 0 11 14z"/></svg>
<span class="t" style="left:2366.40px;top:1477.62px;font:700 26.67px/1 'Liberation Sans',Arial,sans-serif;color:#2f9e4c;letter-spacing:1.118px;">$62.77</span>
<span class="t" style="left:2330.40px;top:1515.12px;font:400 13.33px/1 'Liberation Sans',Arial,sans-serif;color:#7c706c;letter-spacing:-0.109px;">AVG COST/SESSION</span>
<svg class="i" style="left:2012.00px;top:1567.30px;" width="16.00" height="16.00" viewBox="0 0 24 24" fill="none" stroke="#7c706c" stroke-width="2" stroke-linecap="round" stroke-linejoin="round"><circle cx="12" cy="12" r="10"/><polyline points="12 6 12 12 16 14"/></svg>
<span class="t" style="left:2033.60px;top:1567.56px;font:400 16.00px/1 'Liberation Sans',Arial,sans-serif;color:#7c706c;letter-spacing:0.331px;-webkit-text-stroke:0.2px #7c706c;">Recent Activity</span>
<div class="b" style="left:2012.10px;top:1592.10px;width:507.60px;height:54.30px;background:#efede9;border-radius:8px;"></div>
<span class="t" style="left:2020.40px;top:1602.26px;font:400 16.00px/1 'Liberation Sans',Arial,sans-serif;color:#1c1210;letter-spacing:-0.138px;-webkit-text-stroke:0.3px #1c1210;">VibeClaudeOS</span>
<span class="t" style="left:2020.40px;top:1622.32px;font:400 13.33px/1 'Liberation Sans',Arial,sans-serif;color:#7c706c;letter-spacing:-0.029px;">less than a minute ago</span>
<span class="t" style="left:2445.14px;top:1603.54px;font:400 16.00px/1 'Liberation Mono','DejaVu Sans Mono',monospace;color:#1c1210;letter-spacing:-0.157px;-webkit-text-stroke:0.3px #1c1210;">$110.97</span>
<span class="t" style="left:2445.20px;top:1622.32px;font:400 13.33px/1 'Liberation Sans',Arial,sans-serif;color:#7c706c;letter-spacing:0.113px;">22.6M toks</span>
<div class="b" style="left:2012.10px;top:1655.00px;width:507.60px;height:54.30px;background:#efede9;border-radius:8px;"></div>
<span class="t" style="left:2020.40px;top:1665.16px;font:400 16.00px/1 'Liberation Sans',Arial,sans-serif;color:#1c1210;letter-spacing:-0.138px;-webkit-text-stroke:0.3px #1c1210;">VibeClaudeOS</span>
<span class="t" style="left:2020.40px;top:1685.22px;font:400 13.33px/1 'Liberation Sans',Arial,sans-serif;color:#7c706c;letter-spacing:-0.025px;">about 1 hour ago</span>
<span class="t" style="left:2454.95px;top:1666.44px;font:400 16.00px/1 'Liberation Mono','DejaVu Sans Mono',monospace;color:#1c1210;letter-spacing:-0.230px;-webkit-text-stroke:0.3px #1c1210;">$77.33</span>
<span class="t" style="left:2445.00px;top:1685.22px;font:400 13.33px/1 'Liberation Sans',Arial,sans-serif;color:#7c706c;letter-spacing:0.135px;">16.6M toks</span>
<div class="b" style="left:2012.10px;top:1717.90px;width:507.60px;height:54.30px;background:#efede9;border-radius:8px;"></div>
<span class="t" style="left:2020.40px;top:1728.06px;font:400 16.00px/1 'Liberation Sans',Arial,sans-serif;color:#1c1210;letter-spacing:-0.138px;-webkit-text-stroke:0.3px #1c1210;">VibeClaudeOS</span>
<span class="t" style="left:2020.40px;top:1748.12px;font:400 13.33px/1 'Liberation Sans',Arial,sans-serif;color:#7c706c;letter-spacing:-0.040px;">about 3 hours ago</span>
<span class="t" style="left:2464.76px;top:1729.34px;font:400 16.00px/1 'Liberation Mono','DejaVu Sans Mono',monospace;color:#1c1210;letter-spacing:-0.340px;-webkit-text-stroke:0.3px #1c1210;">$0.01</span>
<span class="t" style="left:2455.30px;top:1748.12px;font:400 13.33px/1 'Liberation Sans',Arial,sans-serif;color:#7c706c;letter-spacing:0.064px;">3.1K toks</span>
</section>
<section aria-label="Usage Insights">
<div class="card" style="left:2553.40px;top:1332.10px;width:541.30px;height:490.10px;"></div>
<svg class="i" style="left:2575.03px;top:1385.74px;" width="21.33" height="21.33" viewBox="0 0 24 24" fill="none" stroke="#e8a02c" stroke-width="1.9" stroke-linecap="round" stroke-linejoin="round"><path d="M15 14c.2-1 .7-1.7 1.5-2.5 1-.9 1.5-2.2 1.5-3.5A6 6 0 0 0 6 8c0 1 .2 2.2 1.5 3.5.7.7 1.3 1.5 1.5 2.5"/><path d="M9 18h6"/><path d="M10 22h4"/></svg>
<span class="t" style="left:2607.50px;top:1386.44px;font:700 21.33px/1 'Liberation Sans',Arial,sans-serif;color:#1c1210;letter-spacing:-0.466px;">Usage Insights</span>
<div class="b" style="left:2913.90px;top:1383.20px;width:158.20px;height:26.80px;background:#d42a2a;border-radius:10px;box-shadow:0 1px 2px rgba(0,0,0,.15);"></div>
<span class="t" style="left:2922.90px;top:1390.92px;font:700 13.33px/1 'Liberation Sans',Arial,sans-serif;color:#ffffff;letter-spacing:0.336px;">ATTENTION NEEDED</span>
<div class="b" style="left:2554.40px;top:1454.90px;width:539.30px;height:1.00px;background:#dcd8d1;"></div>
<div class="b" style="left:2554.40px;top:1626.60px;width:539.30px;height:1.00px;background:#dcd8d1;"></div>
<div class="b" style="left:2554.40px;top:1766.60px;width:539.30px;height:1.00px;background:#dcd8d1;"></div>
<svg class="i" style="left:2585.74px;top:1519.74px;" width="21.33" height="21.33" viewBox="0 0 24 24" fill="none" stroke="#d29a22" stroke-width="1.9" stroke-linecap="round" stroke-linejoin="round"><path d="M4 14a1 1 0 0 1-.78-1.63l9.9-10.2a.5.5 0 0 1 .86.46l-1.92 6.02A1 1 0 0 0 13 10h7a1 1 0 0 1 .78 1.63l-9.9 10.2a.5.5 0 0 1-.86-.46l1.92-6.02A1 1 0 0 0 11 14z"/></svg>
<span class="t" style="left:2634.30px;top:1514.20px;font:400 18.67px/1 'Liberation Sans',Arial,sans-serif;color:#1c1210;letter-spacing:0.541px;-webkit-text-stroke:0.2px #1c1210;">High Input</span>
<span class="t" style="left:2983.10px;top:1514.76px;font:400 16.00px/1 'Liberation Sans',Arial,sans-serif;color:#7c706c;letter-spacing:0.929px;">2025-12-11</span>
<span class="t" style="left:2634.30px;top:1545.06px;font:400 16.00px/1 'Liberation Sans',Arial,sans-serif;color:#7c706c;letter-spacing:0.156px;">Input tokens 3.3x above threshold (32.8M)</span>
<div class="b" style="left:2634.30px;top:1579.30px;width:204.60px;height:26.40px;background:#e3e1dd;border-radius:8px;"></div>
<span class="t" style="left:2640.70px;top:1586.98px;font:700 13.33px/1 'Liberation Mono','DejaVu Sans Mono',monospace;color:#1c1210;letter-spacing:-0.007px;">claude-opus-4-5-thinking</span>
<div class="b" style="left:2575.00px;top:1649.60px;width:42.80px;height:42.40px;background:#ffedd5;border-radius:10.67px;"></div>
<svg class="i" style="left:2585.74px;top:1660.54px;" width="21.33" height="21.33" viewBox="0 0 24 24" fill="none" stroke="#ea580c" stroke-width="1.9" stroke-linecap="round" stroke-linejoin="round"><path d="m12 14 4-4"/><path d="M3.34 19a10 10 0 1 1 17.32 0"/></svg>
<span class="t" style="left:2634.30px;top:1654.20px;font:400 18.67px/1 'Liberation Sans',Arial,sans-serif;color:#1c1210;letter-spacing:0.212px;-webkit-text-stroke:0.2px #1c1210;">High I/O Ratio</span>
<span class="t" style="left:2983.10px;top:1654.76px;font:400 16.00px/1 'Liberation Sans',Arial,sans-serif;color:#7c706c;letter-spacing:0.929px;">2025-12-11</span>
<span class="t" style="left:2634.30px;top:1685.06px;font:400 16.00px/1 'Liberation Sans',Arial,sans-serif;color:#7c706c;letter-spacing:0.183px;">I/O ratio 1.8x above threshold (180:1)</span>
<div class="b" style="left:2634.30px;top:1719.30px;width:204.60px;height:26.40px;background:#e3e1dd;border-radius:8px;"></div>
<span class="t" style="left:2640.70px;top:1726.98px;font:700 13.33px/1 'Liberation Mono','DejaVu Sans Mono',monospace;color:#1c1210;letter-spacing:-0.007px;">claude-opus-4-5-thinking</span>
</section>
</main><div id="hl"></div></div></body></html>
